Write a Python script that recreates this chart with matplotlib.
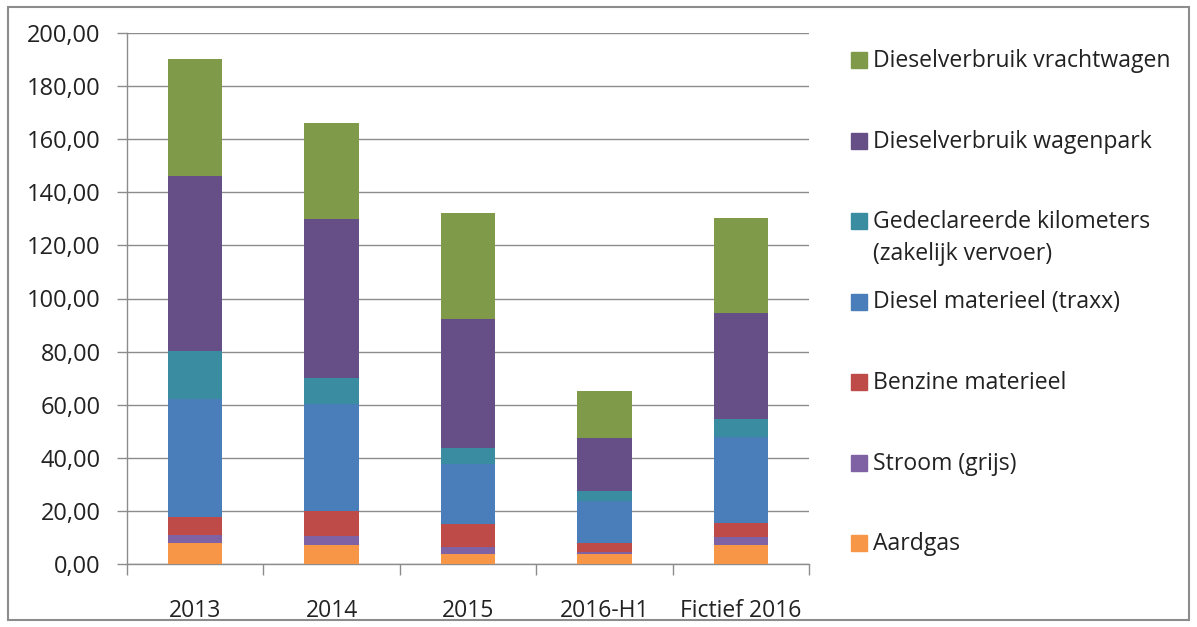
import matplotlib.pyplot as plt
from matplotlib.patches import Rectangle
from matplotlib.ticker import FuncFormatter, FixedLocator
import numpy as np

plt.rcParams['font.family'] = ['Open Sans', 'DejaVu Sans']

jaren = ['2013', '2014', '2015', '2016-H1', 'Fictief 2016']

# series from bottom to top of the stack
aardgas = [7.8, 7.2, 3.8, 3.8, 7.2]
stroom = [3.1, 3.5, 2.7, 0.6, 2.8]
benzine = [6.9, 9.3, 8.6, 3.4, 5.4]
diesel_traxx = [44.3, 40.1, 22.6, 15.9, 32.3]
gedeclareerd = [18.1, 10.1, 5.9, 3.8, 6.9]
wagenpark = [65.9, 59.8, 48.6, 19.8, 39.8]
vrachtwagen = [44.1, 36.0, 40.0, 18.0, 35.8]

series = [aardgas, stroom, benzine, diesel_traxx, gedeclareerd, wagenpark, vrachtwagen]
namen = ['Aardgas', 'Stroom (grijs)', 'Benzine materieel', 'Diesel materieel (traxx)',
         'Gedeclareerde kilometers\n(zakelijk vervoer)', 'Dieselverbruik wagenpark',
         'Dieselverbruik vrachtwagen']
kleuren = ['#F79646', '#7F62A3', '#BE4B48', '#4A7EBB', '#3A8CA0', '#664F86', '#7F9A48']

W, H = 1197, 627
fig = plt.figure(figsize=(W / 100, H / 100), dpi=100)
ax = fig.add_axes([127 / W, 1 - 564 / H, (809 - 127) / W, (564 - 33) / H])

x = np.arange(len(jaren))
onder = np.zeros(len(jaren))
for waarden, kleur in zip(series, kleuren):
    ax.bar(x, waarden, bottom=onder, width=0.4, color=kleur, zorder=3)
    onder += np.array(waarden)

ax.set_xlim(-0.5, len(jaren) - 0.5)
ax.set_ylim(0, 200)
ax.set_yticks(np.arange(0, 201, 20))
ax.yaxis.set_major_formatter(FuncFormatter(lambda v, p: f'{v:.2f}'.replace('.', ',')))
ax.grid(axis='y', color='#8c8c8c', linewidth=1, zorder=0)

ax.set_xticks(x)
ax.set_xticklabels(jaren)
ax.xaxis.set_minor_locator(FixedLocator(np.arange(-0.5, len(jaren), 1)))
ax.tick_params(axis='x', which='major', length=0, pad=25, labelsize=16.5, colors='#222222')
ax.tick_params(axis='x', which='minor', length=8, color='#8c8c8c', width=1)
ax.tick_params(axis='y', length=7, color='#8c8c8c', width=1, pad=12, labelsize=17,
               labelcolor='#222222')

for kant in ['top', 'right']:
    ax.spines[kant].set_visible(False)
for kant in ['left', 'bottom']:
    ax.spines[kant].set_color('#8c8c8c')
    ax.spines[kant].set_linewidth(1)

# legend, top entry first
y0 = 60
stap = 80.5
for i, (naam, kleur) in enumerate(zip(namen[::-1], kleuren[::-1])):
    yc = y0 + i * stap
    fig.patches.append(Rectangle((851 / W, 1 - (yc + 8) / H), 16 / W, 16 / H,
                                 transform=fig.transFigure, color=kleur))
    fig.text(873 / W, 1 - (yc + 7) / H, naam.split('\n')[0], fontsize=16.6,
             color='#222222', va='baseline', ha='left')
    if '\n' in naam:
        fig.text(873 / W, 1 - (yc + 39) / H, naam.split('\n')[1], fontsize=16.6,
                 color='#222222', va='baseline', ha='left')

# outer frame
fig.patches.append(Rectangle((8 / W, 7 / H), (1189 - 8) / W, (620 - 7) / H,
                             transform=fig.transFigure, fill=False,
                             edgecolor='#8c8c8c', linewidth=1.5))

fig.savefig('out.png', dpi=100)
